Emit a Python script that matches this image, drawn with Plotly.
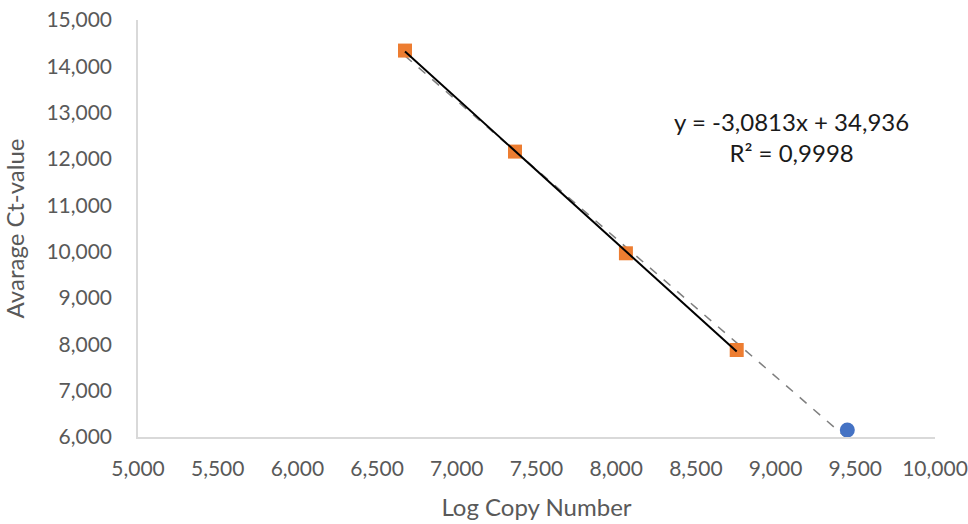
import numpy as np
import plotly.graph_objects as go

# Data (log copy number vs average Ct-value)
std_x = [6.675, 7.365, 8.061, 8.756]
std_y = [14.34, 12.16, 9.965, 7.878]
sample_x = [9.45]
sample_y = [6.15]

eq_text = "y = -3,0813x + 34,936<br>R² = 0,9998"

FONT = "Lato"
GREY_TXT = "#595959"

# Trendline of standards (solid black)
p1 = np.polyfit(std_x, std_y, 1)
tx1 = np.array([min(std_x), max(std_x)])
ty1 = np.polyval(p1, tx1)

# Trendline of all points (dashed grey)
all_x = std_x + sample_x
all_y = std_y + sample_y
p2 = np.polyfit(all_x, all_y, 1)
tx2 = np.array([min(all_x), max(all_x)])
ty2 = np.polyval(p2, tx2)

fig = go.Figure()
fig.add_trace(go.Scatter(x=tx2, y=ty2, mode="lines",
                         line=dict(color="#7f7f7f", width=1.5, dash="dash"),
                         showlegend=False, hoverinfo="skip"))
fig.add_trace(go.Scatter(x=sample_x, y=sample_y, mode="markers",
                         marker=dict(symbol="circle", size=15, color="#4472C4"),
                         showlegend=False))
fig.add_trace(go.Scatter(x=std_x, y=std_y, mode="markers",
                         marker=dict(symbol="square", size=14, color="#ED7D31"),
                         showlegend=False))
fig.add_trace(go.Scatter(x=tx1, y=ty1, mode="lines",
                         line=dict(color="#000000", width=2),
                         showlegend=False, hoverinfo="skip"))

fig.add_annotation(x=9.1, y=12.48, xref="x", yref="y", text=eq_text,
                   showarrow=False, align="center",
                   font=dict(family=FONT, size=24, color="#1a1a1a"))

fig.update_layout(
    width=968, height=524,
    margin=dict(l=138, r=33, t=20, b=87),
    paper_bgcolor="white", plot_bgcolor="white",
    separators=",.",
    font=dict(family=FONT, color=GREY_TXT),
)
fig.update_xaxes(range=[5, 10], dtick=0.5, tick0=5, tickformat=".3f",
                 showgrid=False, zeroline=False, automargin=False,
                 ticklabeloverflow="allow",
                 showline=True, linecolor="#d9d9d9", linewidth=1.5,
                 ticks="", ticklabelstandoff=12,
                 tickfont=dict(family=FONT, size=21, color=GREY_TXT),
                 title=dict(text="Log Copy Number", standoff=20,
                            font=dict(family=FONT, size=24, color=GREY_TXT)))
fig.update_yaxes(range=[6, 15], dtick=1, tick0=6, tickformat=".3f",
                 showgrid=False, zeroline=False, automargin=False,
                 ticklabeloverflow="allow",
                 showline=True, linecolor="#d9d9d9", linewidth=1.5,
                 ticks="", ticklabelstandoff=20,
                 tickfont=dict(family=FONT, size=21, color=GREY_TXT),
                 title=dict(text="Avarage Ct-value", standoff=21,
                            font=dict(family=FONT, size=24, color=GREY_TXT)))

fig.write_html("out.html", config={"displayModeBar": False},
               post_script="document.body.style.margin='0';document.body.style.overflow='hidden';")
